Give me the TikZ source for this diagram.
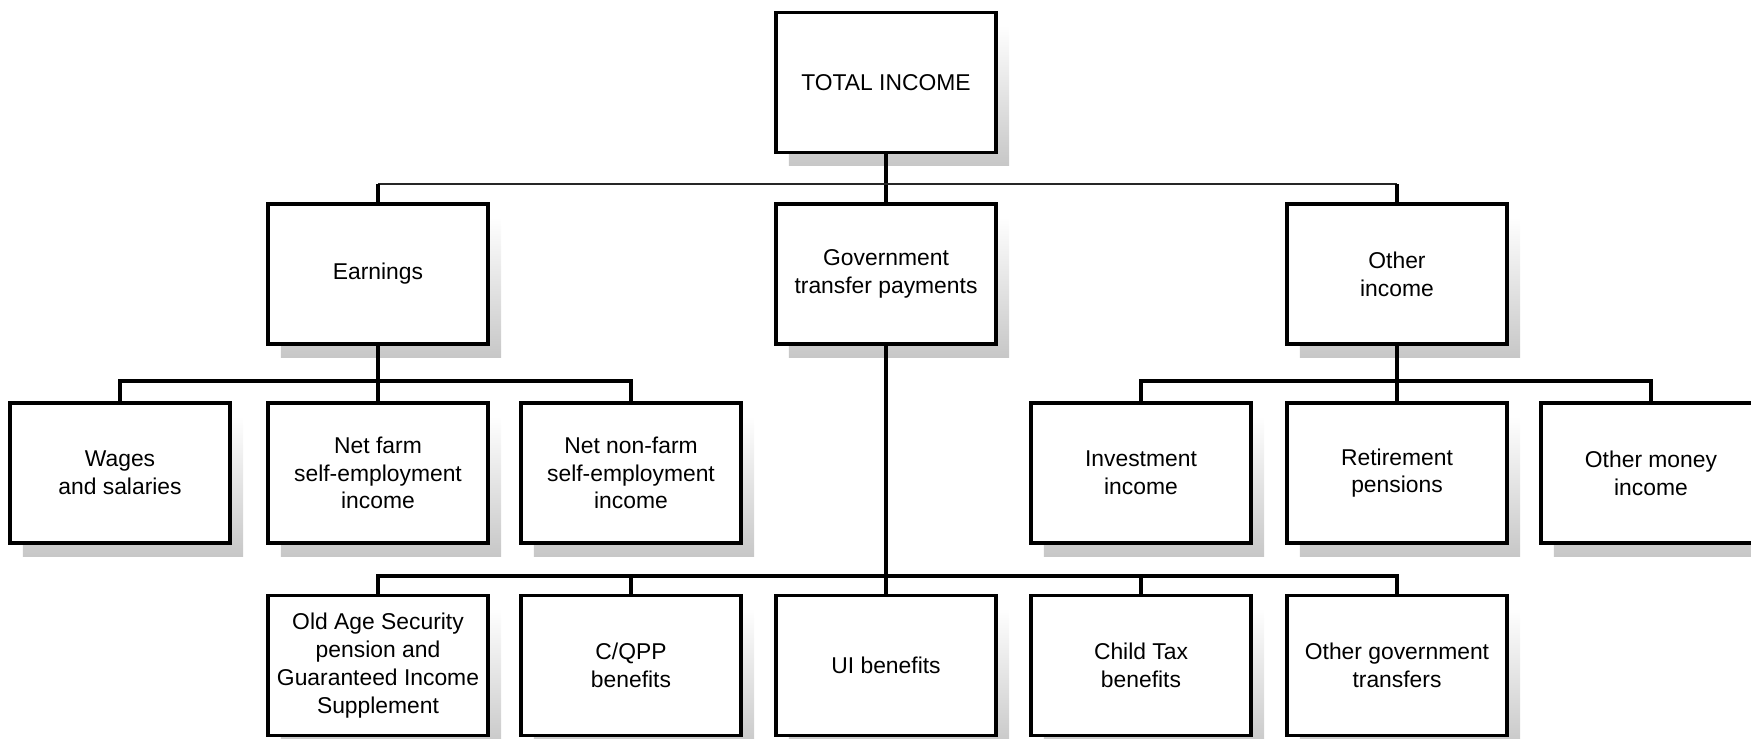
\documentclass[tikz,border=0pt]{standalone}
\usepackage{fontspec}
\setmainfont{Liberation Sans}
\usetikzlibrary{shadows}
\begin{document}
\begin{tikzpicture}[x=0.01cm,y=-0.01cm,
  box/.style={draw=black, line width=1pt, fill=white, minimum width=2.2cm, minimum height=1.4cm,
    inner sep=1pt, align=center, font=\fontsize{6.5}{7.9}\selectfont,
    general shadow={shadow xshift=0.13cm, shadow yshift=-0.13cm, draw=none,
      top color=white, middle color=black!10, bottom color=black!22}},
  conn/.style={line width=1pt, line join=miter},
  thinbus/.style={line width=0.6pt, draw=black!85}]
\useasboundingbox (0,0) rectangle (1751,738);
\clip (0,0) rectangle (1751,738);
% nodes
\node[box] (total) at (886,82.5) {TOTAL INCOME};
\node[box] (earn)  at (378,274) {Earnings};
\node[box] (gov)   at (886,274) {Government\\transfer payments};
\node[box] (other) at (1397,274) {Other\\income};
\node[box] (wages)   at (120,473) {Wages\\and salaries};
\node[box] (netfarm) at (378,473) {Net farm\\self-employment\\income};
\node[box] (nonfarm) at (631,473) {Net non-farm\\self-employment\\income};
\node[box] (invest)  at (1141,473) {Investment\\income};
\node[box] (retire)  at (1397,473) {Retirement\\pensions};
\node[box] (othermoney) at (1651,473) {Other money\\income};
\node[box] (oas)   at (378,665.5) {Old Age Security\\pension and\\Guaranteed Income\\Supplement};
\node[box] (cqpp)  at (631,665.5) {C/QPP\\benefits};
\node[box] (ui)    at (886,665.5) {UI benefits};
\node[box] (child) at (1141,665.5) {Child Tax\\benefits};
\node[box] (othergov) at (1397,665.5) {Other government\\transfers};
% bus levels
\coordinate (b0) at (0,184);
\coordinate (b1) at (0,381);
\coordinate (b2) at (0,576);
% level 1
\draw[conn] (total) -- (gov);
\draw[thinbus] (earn.north |- b0) -- (other.north |- b0);
\draw[conn] (earn.north) -- (earn.north |- b0);
\draw[conn] (other.north) -- (other.north |- b0);
% earnings
\draw[conn] (earn) -- (netfarm);
\draw[conn] (wages.north) -- (wages.north |- b1) -- (nonfarm.north |- b1) -- (nonfarm.north);
% other income
\draw[conn] (other) -- (retire);
\draw[conn] (invest.north) -- (invest.north |- b1) -- (othermoney.north |- b1) -- (othermoney.north);
% government transfers
\draw[conn] (gov) -- (ui);
\draw[conn] (oas.north) -- (oas.north |- b2) -- (othergov.north |- b2) -- (othergov.north);
\draw[conn] (cqpp.north) -- (cqpp.north |- b2);
\draw[conn] (child.north) -- (child.north |- b2);
\end{tikzpicture}
\end{document}
